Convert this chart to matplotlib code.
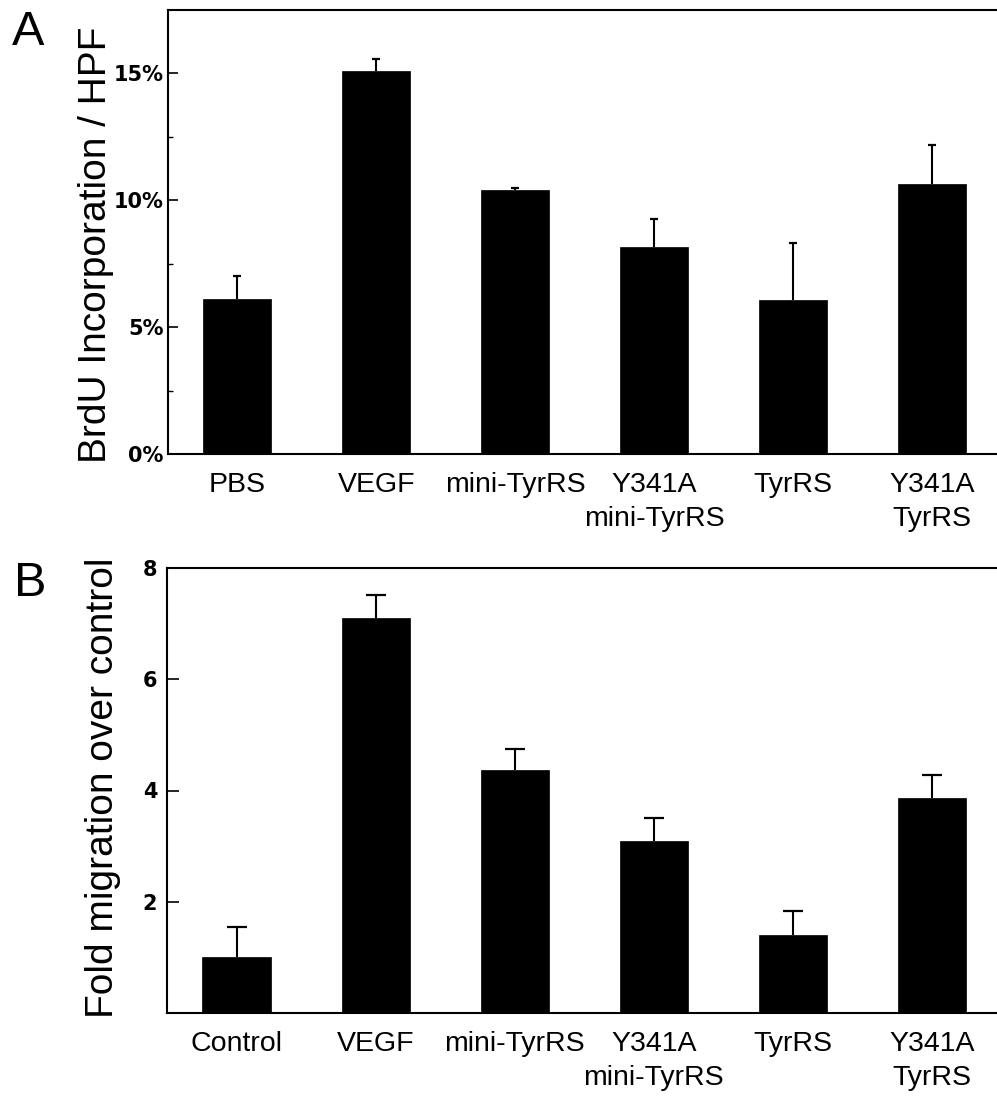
import matplotlib
matplotlib.use("Agg")
import matplotlib.pyplot as plt
import numpy as np
from matplotlib.ticker import FixedLocator

plt.rcParams['font.family'] = ['Liberation Sans', 'DejaVu Sans']

# ---- Data ----
labels_a = ["PBS", "VEGF", "mini-TyrRS", "Y341A\nmini-TyrRS", "TyrRS", "Y341A\nTyrRS"]
brdu_values = [6.10, 15.09, 10.39, 8.14, 6.06, 10.66]
brdu_errors = [0.90, 0.49, 0.11, 1.14, 2.24, 1.52]

labels_b = ["Control", "VEGF", "mini-TyrRS", "Y341A\nmini-TyrRS", "TyrRS", "Y341A\nTyrRS"]
migration_values = [1.01, 7.11, 4.36, 3.10, 1.41, 3.87]
migration_errors = [0.54, 0.40, 0.38, 0.40, 0.43, 0.40]

yticks_a = [0, 5, 10, 15]
yticklabels_a = ["0%", "5%", "10%", "15%"]
yminor_a = [2.5, 7.5, 12.5]
yticks_b = [2, 4, 6, 8]
yticklabels_b = ["2", "4", "6", "8"]

W, H = 997, 1096
fig = plt.figure(figsize=(W / 100, H / 100), dpi=100)

def frac_rect(left, top, right, bottom):
    return [left / W, 1 - bottom / H, (right - left) / W, (bottom - top) / H]

axA = fig.add_axes(frac_rect(168, 10, 1001.5, 454))
axB = fig.add_axes(frac_rect(167, 568, 1001.5, 1013))

def draw(ax, labels, vals, errs, capwidth, ylim):
    x = np.arange(len(vals))
    vals = np.asarray(vals)
    errs = np.asarray(errs)
    ax.bar(x, vals, width=0.49, color="black", edgecolor="black", linewidth=0.5, zorder=2)
    ax.errorbar(x, vals, yerr=[np.zeros(len(errs)), errs], fmt="none", ecolor="black",
                elinewidth=1.5, capsize=0, zorder=1)
    ax.plot(x, vals + errs, linestyle="none", marker="_", markersize=capwidth,
            markeredgewidth=1.6, color="black", zorder=3)
    ax.set_xlim(-0.5, 5.5)
    ax.set_ylim(*ylim)
    ax.set_xticks(x)
    ax.set_xticklabels(labels, fontsize=20.5, linespacing=1.4)
    ax.tick_params(axis="x", length=0, pad=13)
    for s in ax.spines.values():
        s.set_linewidth(1.5)
    ax.spines["right"].set_visible(False)

tickfont = dict(family="DejaVu Sans", fontweight="bold", fontsize=15)

draw(axA, labels_a, brdu_values, brdu_errors, 5.8, (0, 17.5))
axA.yaxis.set_major_locator(FixedLocator(yticks_a))
axA.set_yticklabels(yticklabels_a, **tickfont)
axA.yaxis.set_minor_locator(FixedLocator(yminor_a))
axA.tick_params(axis="y", which="major", direction="in", length=7, width=1.2, pad=3)
axA.tick_params(axis="y", which="minor", direction="in", length=3.6, width=1.0)

draw(axB, labels_b, migration_values, migration_errors, 15, (0, 8))
axB.yaxis.set_major_locator(FixedLocator(yticks_b))
axB.set_yticklabels(yticklabels_b, **tickfont)
axB.tick_params(axis="y", which="major", direction="in", length=8.3, width=1.2, pad=7)

fig.text(96 / W, 1 - 245 / H, "BrdU Incorporation / HPF", rotation=90,
         ha="center", va="center", fontsize=28)
fig.text(103 / W, 1 - 788 / H, "Fold migration over control", rotation=90,
         ha="center", va="center", fontsize=28)

fig.text(12 / W, 1 - 10 / H, "A", ha="left", va="top", fontsize=35)
fig.text(14 / W, 1 - 561 / H, "B", ha="left", va="top", fontsize=35)

fig.savefig("out.png", dpi=100)
